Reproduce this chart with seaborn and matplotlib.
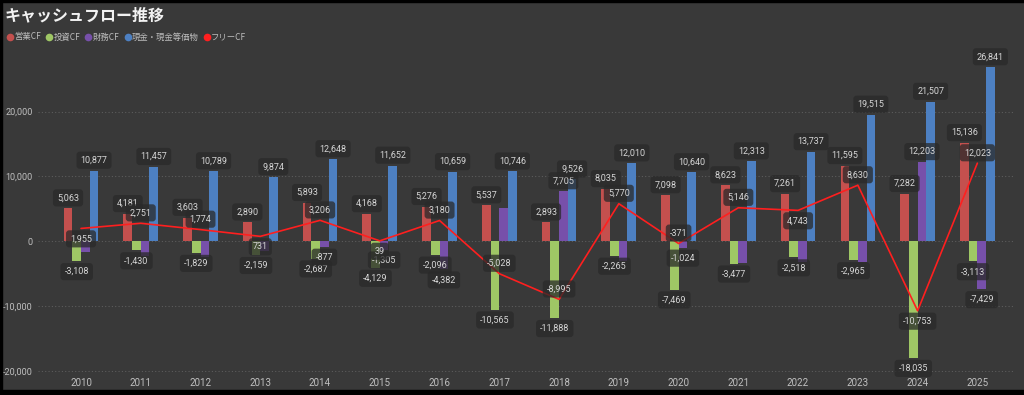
import numpy as np
import pandas as pd
import matplotlib
matplotlib.use("Agg")
import matplotlib.pyplot as plt
from matplotlib.lines import Line2D
from matplotlib import font_manager
import seaborn as sns

# ---- data ----
years = [2010, 2011, 2012, 2013, 2014, 2015, 2016, 2017, 2018, 2019, 2020, 2021, 2022, 2023, 2024, 2025]
operating_cf = [5063, 4181, 3603, 2890, 5893, 4168, 5276, 5537, 2893, 8035, 7098, 8623, 7261, 11595, 7282, 15136]
investing_cf = [-3108, -1430, -1829, -2159, -2687, -4129, -2096, -10565, -11888, -2265, -7469, -3477, -2518, -2965, -18035, -3113]
financing_cf = [-1700, -2300, -2400, -1600, -877, -1305, -4382, 5100, 7705, -3050, -1024, -3400, -3300, -3150, 12203, -7429]
cash_eq = [10877, 11457, 10789, 9874, 12648, 11652, 10659, 10746, 9526, 12010, 10640, 12313, 13737, 19515, 21507, 26841]
free_cf = [1955, 2751, 1774, 731, 3206, 39, 3180, -5028, -8995, 5770, -371, 5146, 4743, 8630, -10753, 12023]
series_names = ["営業CF", "投資CF", "財務CF", "現金・現金等価物"]
line_name = "フリーCF"
yticks = [-20000, -10000, 0, 10000, 20000]
fin_label_years = [2014, 2015, 2016, 2018, 2020, 2024, 2025]
fcf_label_below_years = [2010, 2013, 2015, 2022, 2024]

# ---- style ----
BG = "#393939"
colors = ["#c4504e", "#9fc765", "#7750aa", "#4d80c2"]
line_color = "#ff1f1f"
txt_color = "#c0c0c0"

sns.set_theme(style="dark")
plt.rcParams["font.family"] = ["Noto Sans CJK JP", "DejaVu Sans"]

avail = {f.name for f in font_manager.fontManager.ttflist}
NUMFONT = ["Liberation Sans Narrow"] if "Liberation Sans Narrow" in avail else ["Roboto"]
NUMFONT = NUMFONT + ["DejaVu Sans"]

df = pd.DataFrame({
    "year": np.repeat([str(y) for y in years], 4),
    "series": series_names * len(years),
    "value": np.ravel(np.column_stack([operating_cf, investing_cf, financing_cf, cash_eq])),
})

fig = plt.figure(figsize=(10.24, 3.95), dpi=100, facecolor=BG)
ax = fig.add_axes([38 / 1024, 1 - 372 / 395, (1015 - 38) / 1024, (372 - 48) / 395])
ax.set_facecolor(BG)

sns.barplot(data=df, x="year", y="value", hue="series", hue_order=series_names,
            palette=colors, width=0.58, gap=0, dodge=True, errorbar=None,
            saturation=1, legend=False, ax=ax, zorder=2, linewidth=0, edgecolor="none")

xs = np.arange(len(years))
sns.lineplot(x=xs, y=free_cf, color=line_color, linewidth=1.2, ax=ax, zorder=4)

ax.set_xlim(-0.72, 15.63)
ax.set_ylim(-20200, 29800)
ax.set_yticks(yticks)
ax.set_yticklabels([f"{v:,}" for v in yticks])
ax.set_xlabel("")
ax.set_ylabel("")
for s in ax.spines.values():
    s.set_visible(False)
ax.grid(axis="y", color="#5c5c5c", linestyle=(0, (1, 2)), linewidth=0.8, zorder=0)
ax.grid(axis="x", visible=False)
ax.tick_params(axis="both", length=0, colors=txt_color, labelsize=7)
ax.tick_params(axis="y", pad=4, labelsize=6.5)
ax.tick_params(axis="x", pad=4)
for lab in ax.get_xticklabels() + ax.get_yticklabels():
    lab.set_family(NUMFONT)

box = dict(boxstyle="round,pad=0.45,rounding_size=0.35", fc=(0.16, 0.16, 0.16, 0.75), ec="none")

def put(x, y, val, below):
    off = -7.5 if below else 7.5
    ax.annotate(f"{val:,}", (x, y), xytext=(0, off), textcoords="offset points",
                ha="center", va="center", fontsize=6.5, color="#d6d6d6",
                family=NUMFONT, bbox=box, zorder=6)

for k, cont in enumerate(ax.containers):
    for i, p in enumerate(cont.patches):
        val = p.get_height()
        if k == 2 and years[i] not in fin_label_years:
            continue
        cx = p.get_x() + p.get_width() / 2
        put(cx, val, int(round(val)), val < 0)

for i, v in enumerate(free_cf):
    put(xs[i], v, v, years[i] in fcf_label_below_years)

# title and legend
fig.text(5 / 1024, 1 - 15 / 395, "キャッシュフロー推移", fontsize=11.5, color="#f2f2f2",
         ha="left", va="center", fontweight="bold")
handles = [Line2D([], [], marker="o", linestyle="none", markersize=5.5, markerfacecolor=c,
                  markeredgecolor="none") for c in colors + [line_color]]
fig.legend(handles, series_names + [line_name], loc="center left",
           bbox_to_anchor=(0.0, 1 - 37 / 395), ncol=5, frameon=False, fontsize=6,
           labelcolor="#bdbdbd", handletextpad=0.0, columnspacing=0.5, borderpad=0.2,
           handlelength=1.0)

# black frame edges like the screenshot
fig.add_artist(plt.Rectangle((0, 0), 1, 5 / 395, transform=fig.transFigure, color="black", zorder=10))
fig.add_artist(plt.Rectangle((0, 0), 2 / 1024, 1, transform=fig.transFigure, color="black", zorder=10))
fig.add_artist(plt.Rectangle((0, 1 - 2 / 395), 1, 2 / 395, transform=fig.transFigure, color="black", zorder=10))

fig.savefig("out.png", dpi=100, facecolor=BG)
